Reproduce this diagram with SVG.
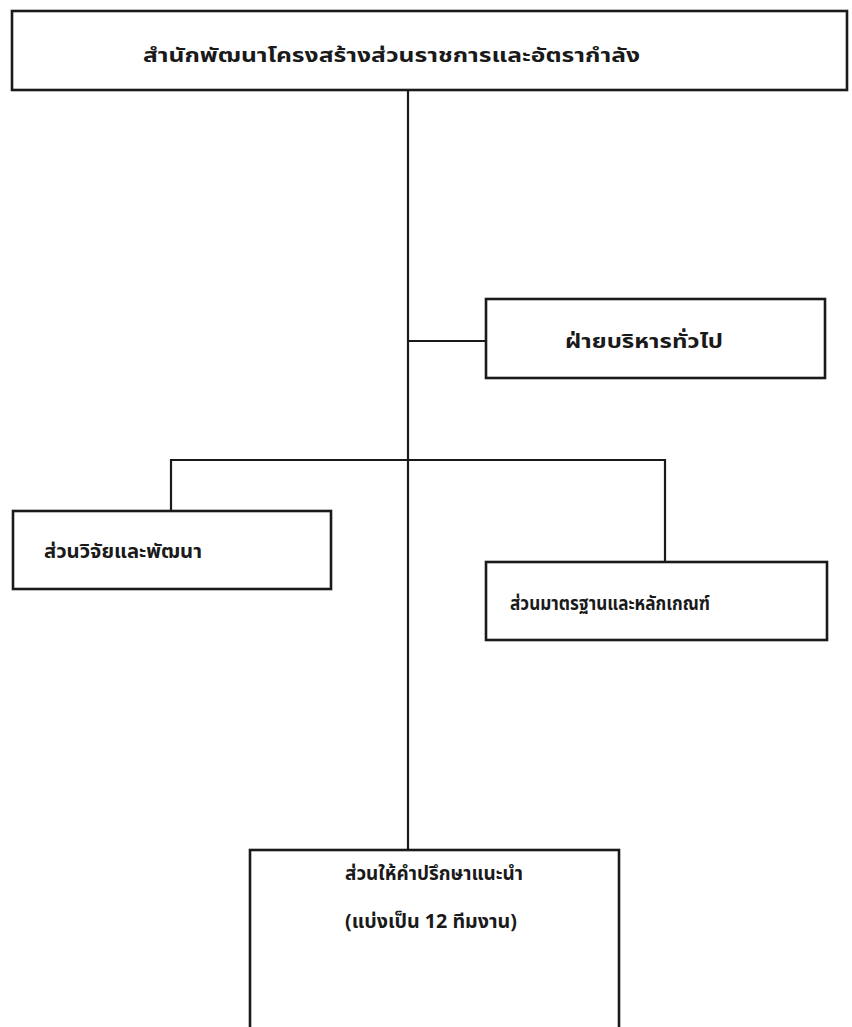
<svg xmlns="http://www.w3.org/2000/svg" width="852" height="1027" viewBox="0 0 852 1027">
<style>
.box{fill:#fff;stroke:#1a1a1a;stroke-width:2.6}
.ln{stroke:#1a1a1a;stroke-width:2.2;fill:none}
.t{font-family:"Noto Sans Thai","Noto Sans","DejaVu Sans",sans-serif;font-weight:bold;font-size:20px;fill:#1a1a1a}
</style>
<rect width="852" height="1027" fill="#fff"/>
<g id="connectors">
<line class="ln" x1="408" y1="90" x2="408" y2="1027"/>
<line class="ln" x1="408" y1="341" x2="486" y2="341"/>
<polyline class="ln" points="171,511 171,460 665,460 665,562"/>
</g>
<g id="n1"><rect class="box" x="12" y="11" width="835" height="79"/>
<text class="t" x="143" y="62" textLength="497" lengthAdjust="spacingAndGlyphs">สำนักพัฒนาโครงสร้างส่วนราชการและอัตรากำลัง</text></g>
<g id="n2"><rect class="box" x="486" y="299" width="339" height="79"/>
<text class="t" x="565" y="348" textLength="158" lengthAdjust="spacingAndGlyphs">ฝ่ายบริหารทั่วไป</text></g>
<g id="n3"><rect class="box" x="13" y="511" width="318" height="78"/>
<text class="t" x="44" y="558" textLength="158" lengthAdjust="spacingAndGlyphs">ส่วนวิจัยและพัฒนา</text></g>
<g id="n4"><rect class="box" x="486" y="562" width="341" height="78"/>
<text class="t" x="510" y="610" textLength="200" lengthAdjust="spacingAndGlyphs">ส่วนมาตรฐานและหลักเกณฑ์</text></g>
<g id="n5"><rect class="box" x="250" y="850" width="369" height="200"/>
<text class="t" x="345" y="880" textLength="178" lengthAdjust="spacingAndGlyphs">ส่วนให้คำปรึกษาแนะนำ</text>
<text class="t" x="345" y="928" textLength="172" lengthAdjust="spacingAndGlyphs">(แบ่งเป็น 12 ทีมงาน)</text></g>
</svg>
